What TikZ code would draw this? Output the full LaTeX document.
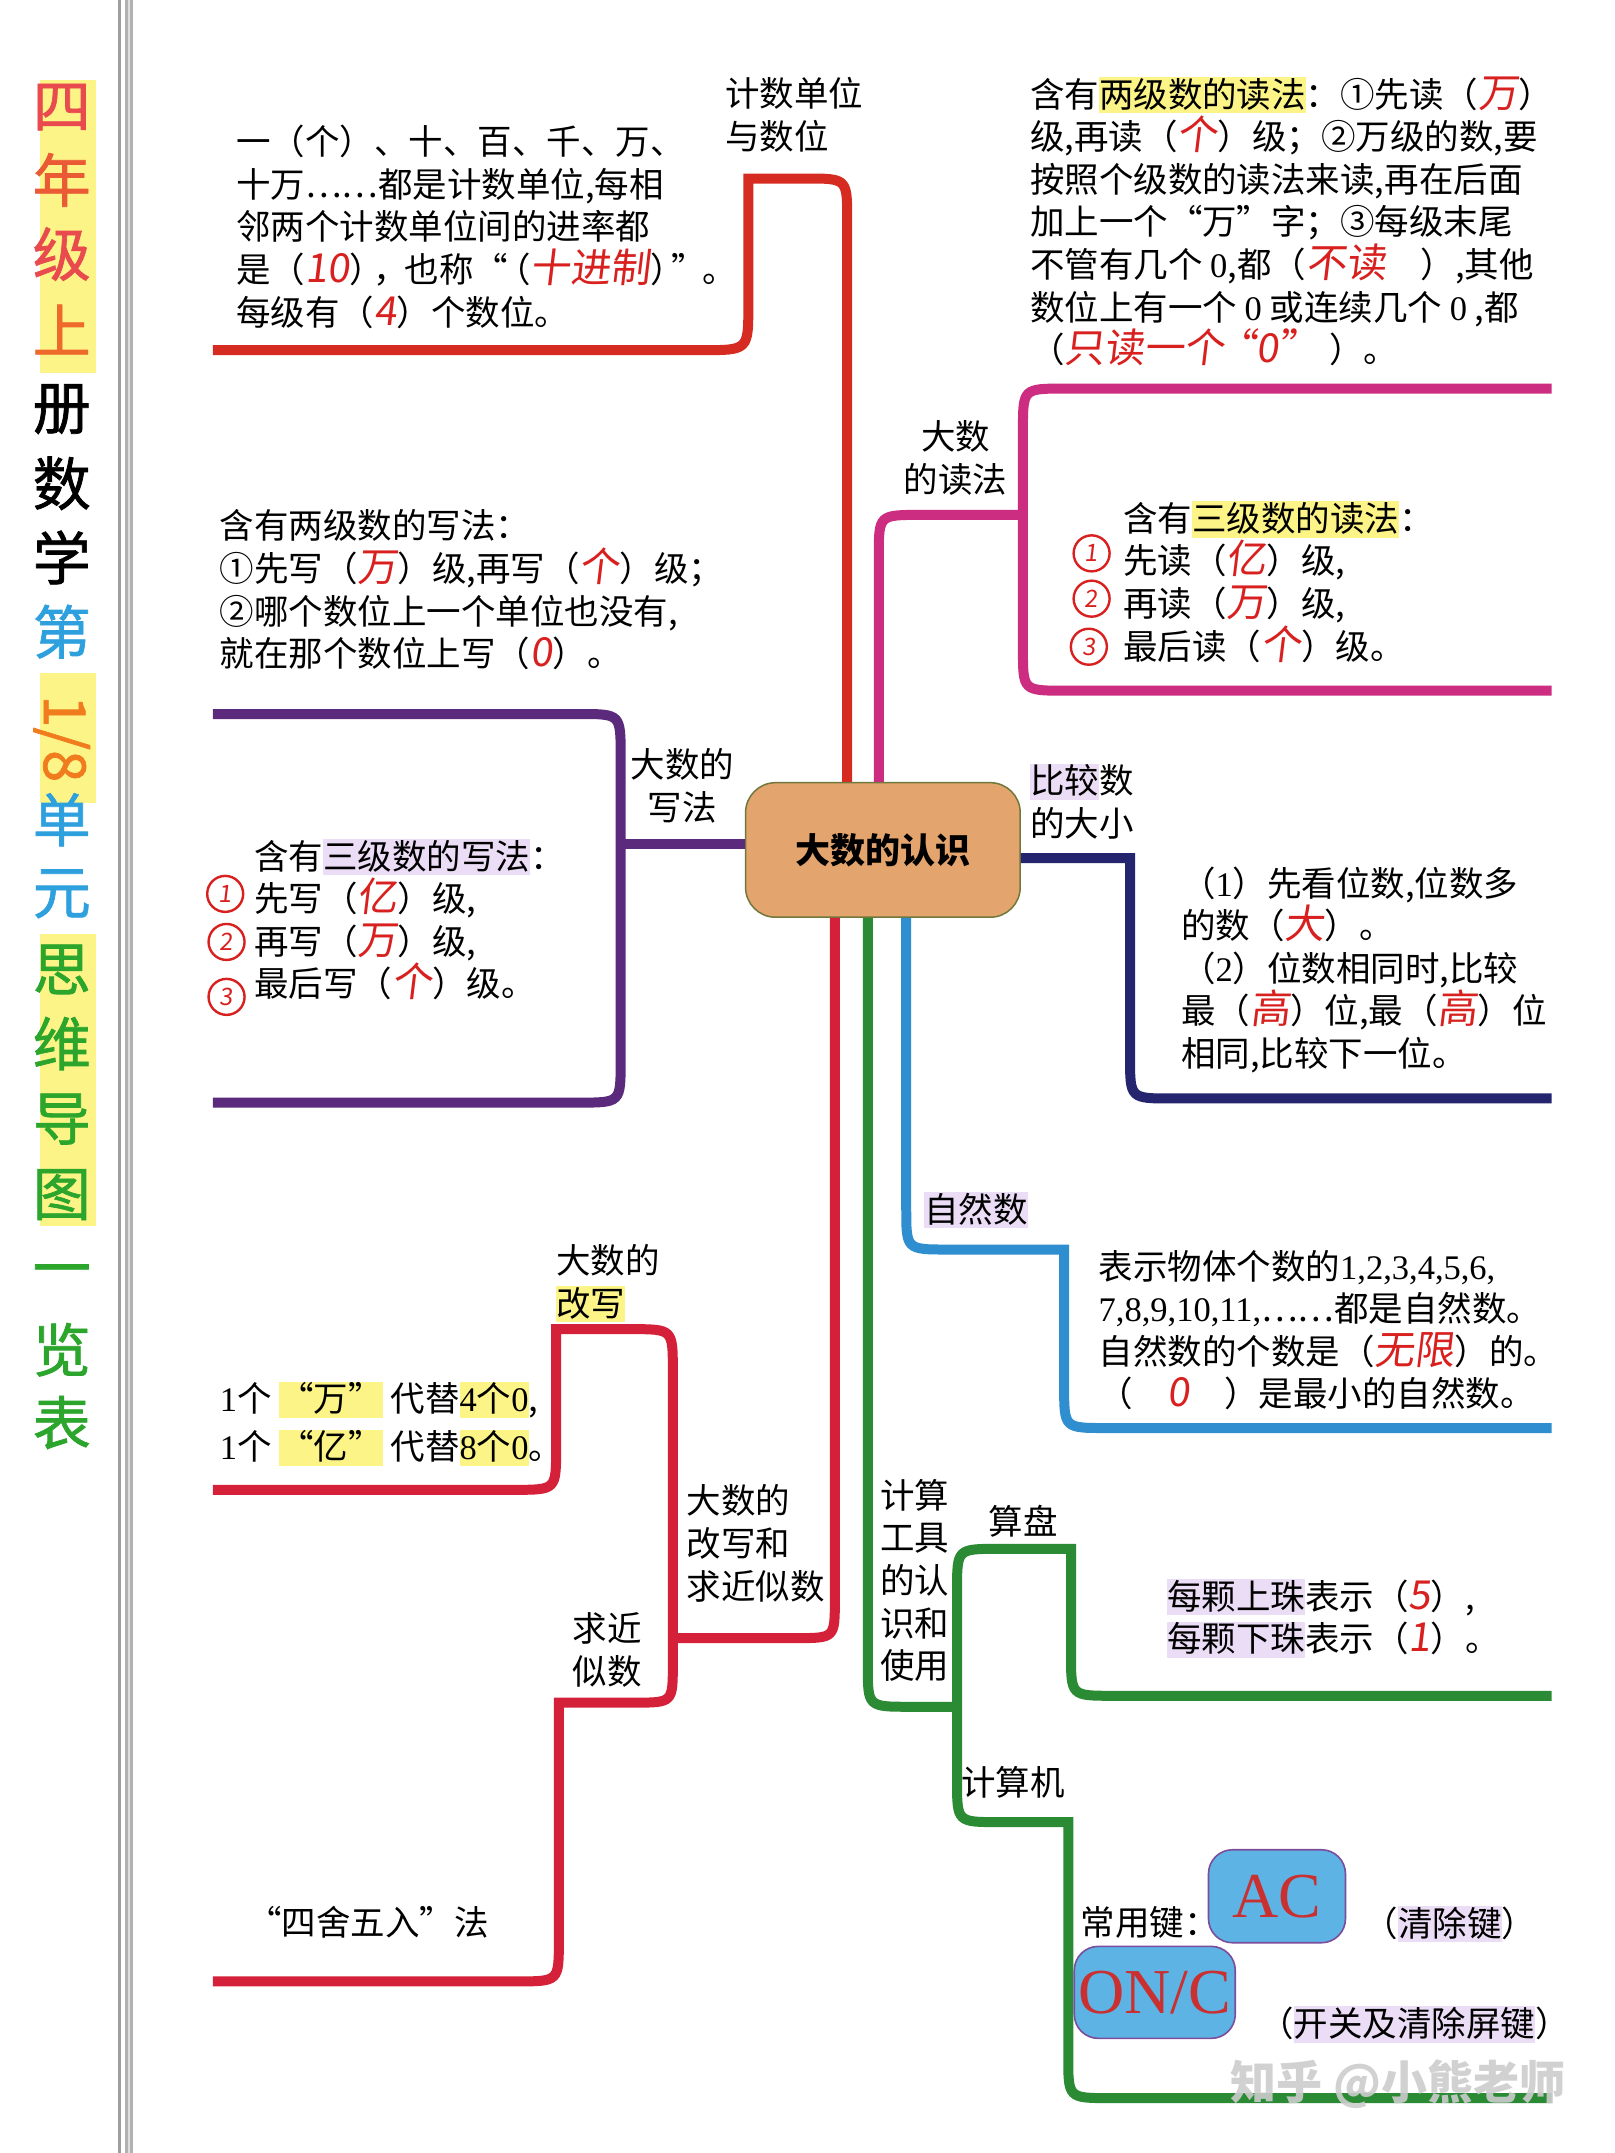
\documentclass[tikz,border=0pt]{standalone}
\usepackage{fontspec}
\setmainfont{Noto Sans CJK SC}
\newfontfamily\tms{Liberation Serif}
\newfontfamily\hwf{Noto Sans CJK SC}[FakeSlant=0.12]
\newfontfamily\ttlf{Noto Sans CJK SC}[FakeBold=1.2]
\definecolor{redA}{HTML}{D62B20}
\definecolor{redB}{HTML}{D42139}
\definecolor{magA}{HTML}{CD2D80}
\definecolor{purA}{HTML}{5B2A7C}
\definecolor{navA}{HTML}{24246F}
\definecolor{bluA}{HTML}{2F8ECF}
\definecolor{grnA}{HTML}{2B8A34}
\definecolor{ctrF}{HTML}{E3A46D}
\definecolor{ctrD}{HTML}{70783C}
\definecolor{hly}{HTML}{FCF487}
\definecolor{hlp}{HTML}{ECDDF6}
\definecolor{hwred}{HTML}{D8201F}
\definecolor{keyF}{HTML}{5DB3E4}
\definecolor{keyD}{HTML}{7A4E9C}
\definecolor{keyT}{HTML}{C9302F}
\definecolor{ttA}{HTML}{E84A4E}
\definecolor{ttB}{HTML}{EA5A34}
\definecolor{ttC}{HTML}{EE6A2A}
\definecolor{ttBl}{HTML}{2EA0DE}
\definecolor{ttO}{HTML}{F07C1E}
\definecolor{ttG}{HTML}{2BA52B}
\newcommand\fs{\fontsize{34.5}{42.6}\selectfont}
\newcommand\fst{\rule{0pt}{0.85em}}
\newcommand\nm[1]{{\tms #1}}
\newcommand\hw[1]{\textcolor{hwred}{\smash{\hwf\fontsize{40}{40}\selectfont #1}}}
\newcommand\hly[1]{{\setlength\fboxsep{0pt}\colorbox{hly}{\rule[-0.18em]{0pt}{1.05em}#1}}}
\newcommand\hlp[1]{{\setlength\fboxsep{0pt}\colorbox{hlp}{\rule[-0.18em]{0pt}{1.05em}#1}}}
\begin{document}
\begin{tikzpicture}[x=1.3733pt,y=-1.3733pt,
  br/.style={line width=10pt,line cap=butt,line join=miter},
  txt/.style={anchor=north west,inner sep=0pt,align=left,font=\fs},
  ctxt/.style={anchor=north,inner sep=0pt,align=center,font=\fs},
  hwc/.style={circle,draw=hwred,line width=2.4pt,text=hwred,font=\hwf\fontsize{24}{24}\selectfont,minimum size=36pt,inner sep=0pt},
  keybox/.style={draw=keyD,fill=keyF,line width=1.6pt,rounded corners=24pt,text=keyT,font=\tms\fontsize{64}{64}\selectfont,inner sep=0pt},
  ttlc/.style={font=\ttlf\fontsize{58}{58}\selectfont,inner sep=0pt}
]
\useasboundingbox[fill=white] (0,0) rectangle (1176,1568);

% left gray bar
\draw[line width=3pt,color=gray!75] (87,0) -- (87,1568);
\draw[line width=8pt,color=gray!60] (94,0) -- (94,1568);
\draw[line width=2pt,color=gray!25] (94,0) -- (94,1568);

% title
\fill[hly] (29,58) rectangle (70,272);
\fill[hly] (29,490) rectangle (70,585);
\fill[hly] (29,680) rectangle (70,893);
\foreach \ch/\yy/\cl [count=\i] in {四/78/ttA,年/131/ttB,级/185/ttA,上/240/ttC,册/298/black,数/352/black,学/406/black,第/460/ttBl,单/597/ttBl,元/651/ttBl,思/706/ttG,维/760/ttG,导/815/ttG,图/870/ttG,一/930/ttG,览/983/ttG,表/1036/ttG}
  \node[ttlc,text=\cl] (t\i) at (45,\yy) {\ch};
\node[ttlc,text=ttO,rotate=-90] (t18) at (45,538) {1/8};

% center
\node[draw=ctrD,fill=ctrF,line width=1.5pt,rounded corners=30pt,minimum width=274.7pt,minimum height=134.6pt,inner sep=0pt,font=\bfseries\fontsize{35}{35}\selectfont] (ctr) at (643,619) {大数的认识};

\coordinate (xRA) at (617,0);
\coordinate (xMA) at (640,0);
\coordinate (xRB) at (608,0);
\coordinate (xGA) at (632,0);
\coordinate (xBA) at (660,0);
\coordinate (yPA) at (0,615);
\coordinate (yNA) at (0,625);

% red top branch
\coordinate (eA) at (155,255);
\draw[br,redA] (ctr.north -| xRA) -- (617,160) .. controls (617,130) .. (587,130) -- (545,130) -- (545,222) .. controls (545,255) .. (512,255) -- (eA);

% magenta branch
\coordinate (eM1) at (1130,283);
\coordinate (eM2) at (1130,503);
\draw[br,magA] (ctr.north -| xMA) -- (640,405) .. controls (640,375) .. (670,375) -- (745,375);
\draw[br,magA] (eM1) -- (775,283) .. controls (745,283) .. (745,313) -- (745,473) .. controls (745,503) .. (775,503) -- (eM2);

% purple branch
\coordinate (eP1) at (155,520);
\coordinate (eP2) at (155,803);
\draw[br,purA] (ctr.west |- yPA) -- (452,615);
\draw[br,purA] (eP1) -- (422,520) .. controls (452,520) .. (452,550) -- (452,773) .. controls (452,803) .. (422,803) -- (eP2);

% navy branch
\coordinate (eN) at (1130,800);
\draw[br,navA] (ctr.east |- yNA) -- (823,625) -- (823,770) .. controls (823,800) .. (853,800) -- (eN);

% blue branch
\coordinate (eB) at (1130,1040);
\draw[br,bluA] (ctr.south -| xBA) -- (660,880) .. controls (660,910) .. (690,910) -- (775,910) -- (775,1010) .. controls (775,1040) .. (805,1040) -- (eB);

% green branch
\coordinate (eG1) at (1130,1235);
\coordinate (eG2) at (1130,1528);
\draw[br,grnA] (ctr.south -| xGA) -- (632,1213) .. controls (632,1243) .. (662,1243) -- (697,1243);
\draw[br,grnA] (697,1243) -- (697,1158) .. controls (697,1128) .. (727,1128) -- (780,1128) -- (780,1205) .. controls (780,1235) .. (810,1235) -- (eG1);
\draw[br,grnA] (697,1243) -- (697,1297) .. controls (697,1327) .. (727,1327) -- (778,1327) -- (778,1498) .. controls (778,1528) .. (808,1528) -- (eG2);

% red lower branch
\coordinate (eR1) at (155,1085);
\coordinate (eR2) at (155,1443);
\draw[br,redB] (ctr.south -| xRB) -- (608,1165) .. controls (608,1193) .. (580,1193) -- (490,1193);
\draw[br,redB] (490,1193) -- (490,998) .. controls (490,968) .. (460,968) -- (405,968) -- (405,1055) .. controls (405,1085) .. (375,1085) -- (eR1);
\draw[br,redB] (490,1193) -- (490,1212) .. controls (490,1240) .. (462,1240) -- (407,1240) -- (407,1413) .. controls (407,1443) .. (377,1443) -- (eR2);

% labels
\node[txt] (lA) at (528,56) {\fst 计数单位\\与数位};
\node[ctxt] (lM) at (696,306) {\fst 大数\\的读法};
\node[ctxt] (lP) at (497,545) {\fst 大数的\\写法};
\node[txt] (lN) at (750,556) {\fst \hlp{比较}数\\的大小};
\node[txt] (lB) at (673,868) {\fst \hlp{自然数}};
\node[txt] (lG) at (641,1077) {\fst 计算\\工具\\的认\\识和\\使用};
\node[txt] (lG1) at (720,1096) {\fst 算盘};
\node[txt] (lG2) at (700,1286) {\fst 计算机};
\node[txt] (lR1) at (405,906) {\fst 大数的\\\hly{改写}};
\node[txt] (lR) at (500,1081) {\fst 大数的\\改写和\\求近似数};
\node[txt] (lR2) at (417,1174) {\fst 求近\\似数};
\node[txt] (lR3) at (180,1388) {\fst “四舍五入”法};

% text blocks
\node[txt] (tA) at (172,91) {\fst 一（个）、十、百、千、万、\\
十万……都是计数单位,每相\\
邻两个计数单位间的进率都\\
是（\hw{10}）\kern-0.3em，\kern-0.1em 也称“\kern-0.35em（\hw{十进制}）\kern-0.4em”\kern-0.1em。\\
每级有（\hw{4}）个数位。};

\node[txt] (tB) at (750,56) {\fst 含有\hly{两级数的读法}：①先读（\hw{万}）\\
级,再读（\hw{个}）级；②万级的数,要\\
按照个级数的读法来读,再在后面\\
加上一个“万”字；③每级末尾\\
不管有几个 \nm{0},都（\hw{不读}\quad ）,其他\\
数位上有一个 \nm{0} 或连续几个 \nm{0} ,都\\
（\hw{只读一个\kern-0.2em“0”}\kern0.3em）。};

\node[txt] (tC) at (818,365) {\fst 含有\hly{三级数的读法}：\\
先读（\hw{亿}）级,\\
再读（\hw{万}）级,\\
最后读（\hw{个}）级。};
\node[hwc] (cC1) at (795,403) {1};
\node[hwc] (cC2) at (795,436) {2};
\node[hwc] (cC3) at (793,471) {3};

\node[txt] (tD) at (160,371) {\fst 含有两级数的写法：\\
①先写（\hw{万}）级,再写（\hw{个}）级；\\
②哪个数位上一个单位也没有,\\
就在那个数位上写（\hw{0}）。};

\node[txt] (tE) at (185,611) {\fst 含有\hlp{三级数的写法}：\\
先写（\hw{亿}）级,\\
再写（\hw{万}）级,\\
最后写（\hw{个}）级。};
\node[hwc] (cE1) at (164,651) {1};
\node[hwc] (cE2) at (165,686) {2};
\node[hwc] (cE3) at (165,726) {3};

\node[txt] (tF) at (860,631) {\fst （\nm{1}）先看位数,位数多\\
的数（\hw{大}）。\\
（\nm{2}）位数相同时,比较\\
最（\hw{高}）位,最（\hw{高}）位\\
相同,比较下一位。};

\node[txt] (tG) at (800,910) {\fst 表示物体个数的\nm{1,2,3,4,5,6,}\\
\nm{7,8,9,10,11,}……都是自然数。\\
自然数的个数是（\hw{无限}）的。\\
（\quad\hw{0}\quad）是最小的自然数。};

\node[txt] (tH) at (850,1150) {\fst \hlp{每颗上珠}表示（\hw{5}）,\\
\hlp{每颗下珠}表示（\hw{1}）。};

\node[txt,font=\fontsize{34.5}{48}\selectfont] (tI) at (160,1006) {\fst \nm{1}个 \hly{“万”} 代替\hly{\nm{4}个\nm{0}},\\
\nm{1}个 \hly{“亿”} 代替\hly{\nm{8}个\nm{0}}。};

% calculator keys
\node[txt] (tK) at (787,1388) {\fst 常用键：};
\node[keybox,minimum width=137pt,minimum height=93pt] (kAC) at (930,1381) {AC};
\node[keybox,minimum width=161pt,minimum height=92pt] (kON) at (841,1451) {ON/C};
\node[txt] (tK1) at (993,1388) {\fst （\hlp{清除键}）};
\node[txt] (tK2) at (917,1461) {\fst （\hlp{开关及清除屏键}）};

% watermark
\node[inner sep=0pt,font=\bfseries\fontsize{46}{46}\selectfont,text=gray!40,opacity=0.9] (wm) at (1018,1518) {知乎 @小熊老师};
\end{tikzpicture}
\end{document}
